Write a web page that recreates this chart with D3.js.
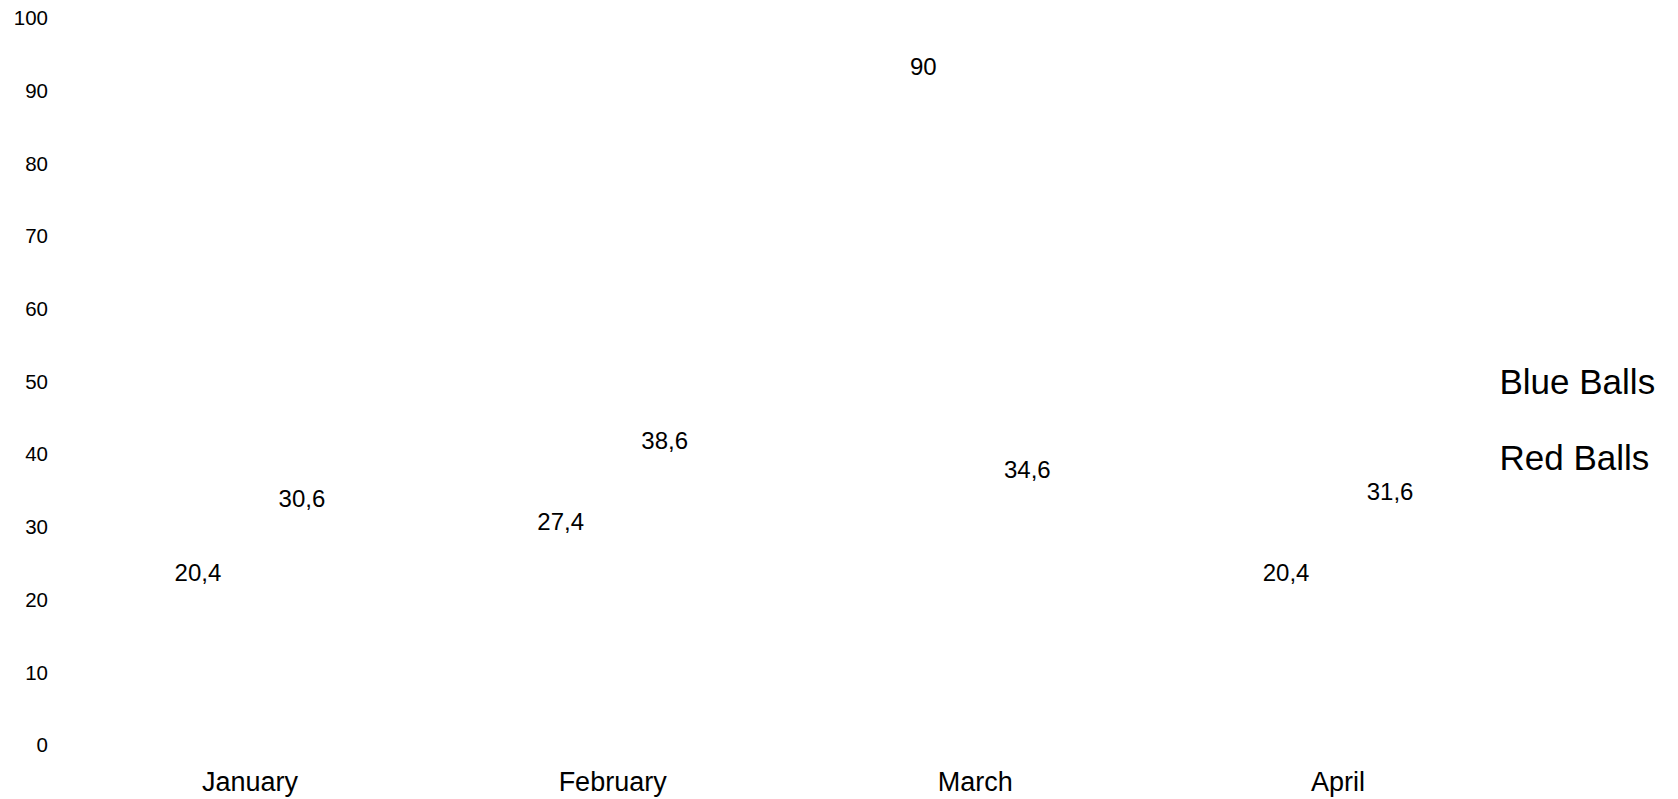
<!DOCTYPE html>
<html>
<head>
<meta charset="utf-8">
<script src="https://cdnjs.cloudflare.com/ajax/libs/d3/7.8.5/d3.min.js"></script>
<style>
	html, body { margin: 0; padding: 0; background: #fff; }
	#vis { width: 1678px; height: 799px; }
	text { font-family: "Liberation Sans", Arial, sans-serif; fill: #000; }
</style>
</head>
<body>
<div id="vis"></div>
<script>
// chart data
var months = ['January', 'February', 'March', 'April'];
var seriesNames = ['Blue Balls', 'Red Balls'];
var blueBalls = [20.4, 27.4, 90, 20.4];
var redBalls = [30.6, 38.6, 34.6, 31.6];
var yTicks = [0, 10, 20, 30, 40, 50, 60, 70, 80, 90, 100];

var width = 1678, height = 799;

var svg = d3.select('#vis').append('svg')
	.attr('width', width)
	.attr('height', height);

// scales
var x0 = d3.scaleBand().domain(months).range([68.6, 1519.4]);
var x1 = d3.scalePoint().domain(seriesNames).range([-52, 52]);
var y = d3.scaleLinear().domain([0, 100]).range([745, 18.3]);

// y axis labels only, no lines
svg.append('g')
	.selectAll('text')
	.data(yTicks)
	.enter().append('text')
	.attr('x', 48)
	.attr('y', function(d) { return y(d); })
	.attr('dy', '0.35em')
	.attr('text-anchor', 'end')
	.style('font-size', '20.5px')
	.text(function(d) { return d; });

// x axis labels
svg.append('g')
	.selectAll('text')
	.data(months)
	.enter().append('text')
	.attr('x', function(d) { return x0(d) + x0.bandwidth() / 2; })
	.attr('y', 782)
	.attr('dy', '0.35em')
	.attr('text-anchor', 'middle')
	.style('font-size', '27px')
	.text(function(d) { return d; });

// one row per month/series
var rows = [];
months.forEach(function(m, i) {
	rows.push({ month: m, series: seriesNames[0], value: blueBalls[i] });
	rows.push({ month: m, series: seriesNames[1], value: redBalls[i] });
});

function cx(d) {
	return x0(d.month) + x0.bandwidth() / 2 + x1(d.series);
}

// bars have no fill in the original, so they stay invisible
svg.append('g')
	.selectAll('rect')
	.data(rows)
	.enter().append('rect')
	.attr('x', function(d) { return cx(d) - 40; })
	.attr('y', function(d) { return y(d.value); })
	.attr('width', 80)
	.attr('height', function(d) { return y(0) - y(d.value); })
	.attr('fill', 'none');

// value labels
svg.append('g')
	.selectAll('text')
	.data(rows)
	.enter().append('text')
	.attr('x', cx)
	.attr('y', function(d) { return y(d.value) - 24; })
	.attr('dy', '0.35em')
	.attr('text-anchor', 'middle')
	.style('font-size', '24px')
	.text(function(d) { return String(d.value).replace('.', ','); });

// legend
svg.append('g')
	.selectAll('text')
	.data(seriesNames)
	.enter().append('text')
	.attr('x', 1499.5)
	.attr('y', function(d, i) { return 382 + i * 76; })
	.attr('dy', '0.35em')
	.style('font-size', '35px')
	.text(function(d) { return d; });
</script>
</body>
</html>
